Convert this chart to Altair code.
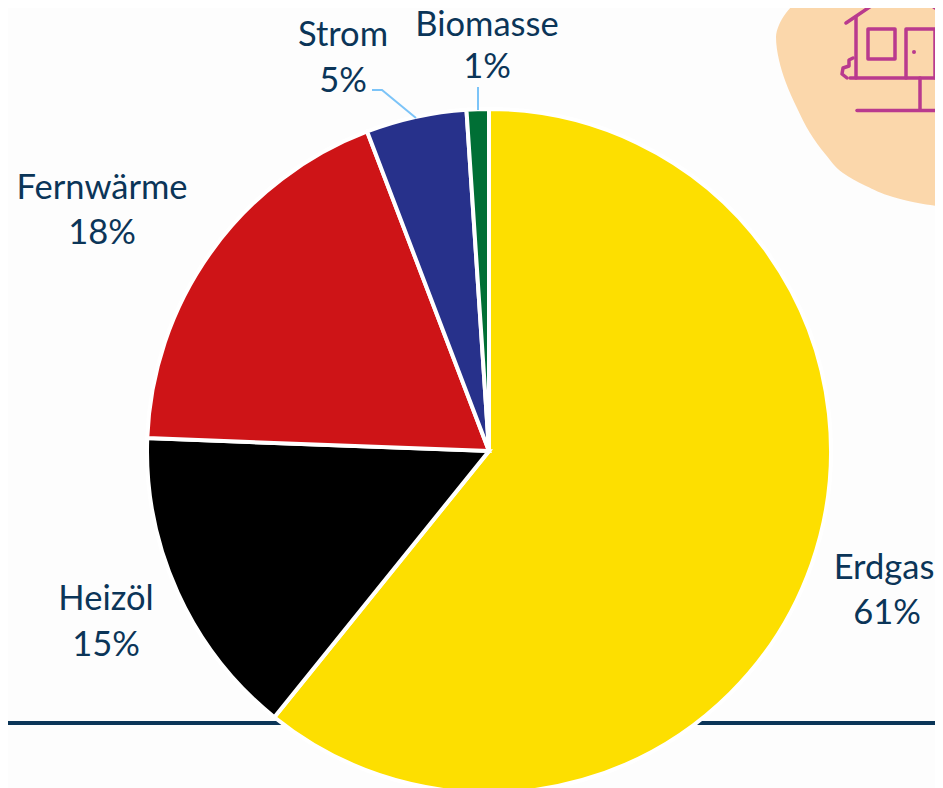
import altair as alt
import pandas as pd

# --- chart values ---
categories = ["Erdgas", "Heizöl", "Fernwärme", "Strom", "Biomasse"]
shares = [60.8, 14.8, 18.6, 4.75, 1.05]
share_labels = ["61%", "15%", "18%", "5%", "1%"]
colors = ["#FDDF00", "#000000", "#CE1417", "#27318B", "#006F35"]

# positions below are in reference-picture pixels
name_x = [884, 106, 102, 343, 487]
value_x = [887, 106, 102, 343, 487]
name_y = [569, 600, 189, 36, 26]
value_y = [614, 646, 234, 82, 68]

center_x = [489]
center_y = [451]

rule_x = [0, 943]
rule_y = [723, 723]

leader_id = ["s", "s", "s", "b", "b"]
leader_x = [372, 382, 416, 478, 478]
leader_y = [90, 90, 118, 87, 110]

blob_y = [0, 13, 25, 37, 60, 83, 108, 133, 155, 173, 186, 197, 203, 207]
blob_x = [798, 786, 779, 776, 779, 786, 797, 810, 826, 843, 866, 893, 918, 943]

icon_id = ["roofL", "roofL", "roofR", "roofR", "chim", "chim", "wall", "wall",
           "base", "base", "win", "win", "win", "win", "win",
           "door", "door", "door", "door", "post", "post", "ground", "ground",
           "bush", "bush", "bush", "bush", "bush", "bush"]
icon_x = [846, 880, 923, 943, 932, 938, 856, 856,
          850, 943, 868, 895, 895, 868, 868,
          906, 906, 935, 935, 920, 920, 857, 943,
          853, 849, 849, 843, 842, 847]
icon_y = [23, 0, 0, 13, 0, 8, 17, 78,
          78, 78, 29, 29, 59, 59, 29,
          78, 29, 29, 78, 78, 110, 110.5, 110.5,
          58, 60, 66, 68, 74, 78]
knob_x = [914]
knob_y = [52]

TEXT = "#0B3558"
FONT = "Lato"
FS = 34.5

X = alt.Scale(domain=[8, 935], range=[0, 927])
Y = alt.Scale(domain=[8, 788], range=[0, 780])
x_ = lambda f: alt.X(f, type="quantitative", scale=X, axis=None)
y_ = lambda f: alt.Y(f, type="quantitative", scale=Y, axis=None)

rule = alt.Chart(pd.DataFrame({"x": rule_x, "y": rule_y})).mark_line(
    color="#0B3558", strokeWidth=4, clip=True).encode(x=x_("x"), y=y_("y"))

blob = alt.Chart(pd.DataFrame({"x": blob_x, "y": blob_y, "x2": [943] * len(blob_x)})).mark_area(
    color="#FBD7AB", orient="horizontal", interpolate="monotone", clip=True).encode(
    x=x_("x"), x2="x2", y=y_("y"))

icon = alt.Chart(pd.DataFrame({"g": icon_id, "x": icon_x, "y": icon_y,
                               "k": range(len(icon_x))})).mark_line(
    color="#B93A8E", strokeWidth=3.5, strokeCap="round", strokeJoin="round", clip=True).encode(
    x=x_("x"), y=y_("y"), detail="g:N", order="k:Q")

knob = alt.Chart(pd.DataFrame({"x": knob_x, "y": knob_y})).mark_circle(
    color="#B93A8E", size=16, opacity=1).encode(x=x_("x"), y=y_("y"))

pie_df = pd.DataFrame({"c": categories, "v": shares, "i": range(len(shares)),
                       "cx": center_x * len(shares), "cy": center_y * len(shares)})
pie = alt.Chart(pie_df).mark_arc(radius=342, stroke="white", strokeWidth=4).encode(
    theta=alt.Theta("v:Q", stack=True, scale=alt.Scale(domain=[0, 100])),
    order=alt.Order("i:Q"),
    color=alt.Color("c:N", scale=alt.Scale(domain=categories, range=colors), legend=None),
    x=x_("cx"), y=y_("cy"))

leaders = alt.Chart(pd.DataFrame({"g": leader_id, "x": leader_x, "y": leader_y,
                                  "k": range(len(leader_x))})).mark_line(
    color="#7CC4F8", strokeWidth=2).encode(
    x=x_("x"), y=y_("y"), detail="g:N", order="k:Q")

lab_df = pd.DataFrame({"t": categories + share_labels,
                       "x": name_x + value_x,
                       "y": name_y + value_y})
labels = alt.Chart(lab_df).mark_text(
    font=FONT, fontSize=FS, color=TEXT, align="center", baseline="middle").encode(
    x=x_("x"), y=y_("y"), text="t:N")

chart = alt.layer(rule, blob, icon, knob, pie, leaders, labels).properties(
    width=927, height=780, padding=0,
    autosize=alt.AutoSizeParams(type="none"),
    background="#FDFDFD",
).configure_view(stroke=None)

chart.save("out.html", embed_options={"renderer": "svg", "actions": False})
